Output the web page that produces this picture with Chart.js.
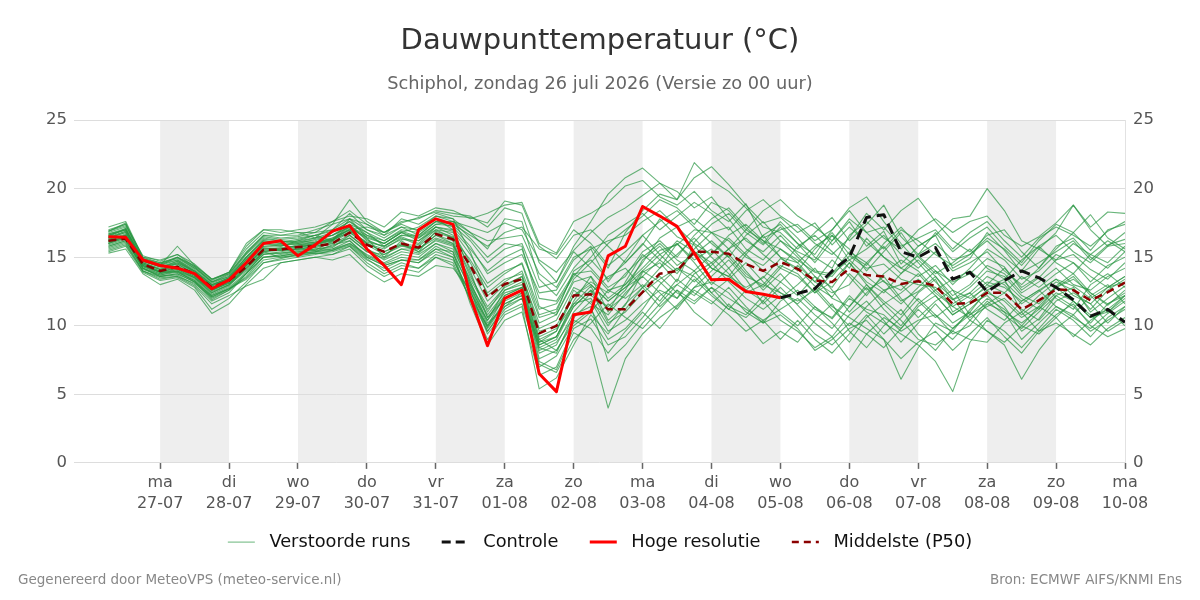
<!DOCTYPE html>
<html lang="nl">
<head>
<meta charset="UTF-8">
<title>Dauwpunttemperatuur</title>
<script src="https://cdn.jsdelivr.net/npm/chart.js@4.4.1/dist/chart.umd.min.js"></script>
<style>
  body { margin: 0; background: #fff; font-family: 'DejaVu Sans', sans-serif; }
  #wrap { position: relative; width: 1200px; height: 600px; }
  .foot { position: absolute; top: 571px; font-size: 13.5px; color: #888; }
</style>
</head>
<body>
<div id="wrap">
  <canvas id="plume"></canvas>
  <div class="foot" style="left:18px">Gegenereerd door MeteoVPS (meteo-service.nl)</div>
  <div class="foot" style="right:18px">Bron: ECMWF AIFS/KNMI Ens</div>
</div>
<script>
Chart.defaults.font.family = "'DejaVu Sans', sans-serif";
Chart.defaults.color = '#555';

// uren t.o.v. ma 27-07 00:00, stappen van 6 uur
var hours = [];
for (var h = -18; h <= 336; h += 6) hours.push(h);

var dayNames = ['ma', 'di', 'wo', 'do', 'vr', 'za', 'zo', 'ma', 'di', 'wo', 'do', 'vr', 'za', 'zo', 'ma'];
var dayDates = ['27-07', '28-07', '29-07', '30-07', '31-07', '01-08', '02-08', '03-08',
                '04-08', '05-08', '06-08', '07-08', '08-08', '09-08', '10-08'];
var shadedDays = [0, 48, 96, 144, 192, 240, 288];   // begin (uur) van de grijze dagen

// hoge resolutie: -18 t/m 216 uur
var hres = [16.5, 16.45, 14.8, 14.4, 14.2, 13.8, 12.7, 13.35, 14.6, 16.0,
            16.2, 15.1, 15.9, 16.9, 17.3, 15.6, 14.4, 13.0, 17.0, 17.8,
            17.4, 12.1, 8.55, 12.0, 12.6, 6.5, 5.2, 10.8, 11.0, 15.1,
            15.8, 18.7, 18.0, 17.25, 15.3, 13.35, 13.4, 12.5, 12.3, 12.05];
// controle run: 216 t/m 336 uur
var control = [12.05, 12.35, 12.7, 14.0, 15.0, 17.9, 18.1, 15.4, 15.0, 15.7,
               13.4, 13.9, 12.5, 13.3, 14.0, 13.5, 12.8, 11.9, 10.7, 11.2, 10.25];
// mediaan van de verstoorde runs: -18 t/m 336 uur
var p50 = [16.2, 16.35, 14.5, 14.0, 14.3, 13.8, 12.8, 13.3, 14.3, 15.55,
           15.55, 15.75, 15.8, 16.0, 16.8, 15.9, 15.4, 16.0, 15.7, 16.7,
           16.3, 14.4, 12.1, 13.05, 13.4, 9.45, 10.0, 12.2, 12.3, 11.2,
           11.2, 12.45, 13.8, 14.0, 15.4, 15.4, 15.25, 14.5, 14.0, 14.65,
           14.15, 13.3, 13.2, 14.15, 13.7, 13.6, 13.05, 13.25, 12.9, 11.6,
           11.65, 12.4, 12.4, 11.2, 11.85, 12.65, 12.6, 11.85, 12.45, 13.15];

// verstoorde runs (geschat uit de pluim), -18 t/m 336 uur
var runs = [
  [16.8,17.2,14.9,14.6,14.9,14.2,13.2,13.6,15.2,16.4, 16.2,16.0,16.3,16.6,17.4,16.2,15.8,16.5,16.0,17.2,
   16.9,15.2,13.1,14.0,14.5,10.8,11.2,13.8,14.0,12.6, 13.0,14.2,15.5,15.9,17.0,16.8,16.2,15.0,14.4,15.6,
   14.8,13.9,13.6,15.1,14.2,14.5,13.4,13.0,12.8,11.9, 12.4,13.6,13.0,11.6,12.5,13.4,12.9,12.0,12.8,13.6],
  [16.0,16.6,14.2,13.8,14.1,13.5,12.4,13.0,14.0,15.2, 15.4,15.6,15.5,16.2,17.1,16.5,16.0,16.8,17.2,18.0,
   17.6,17.2,16.8,17.5,17.0,14.8,13.9,15.5,16.8,17.9, 18.6,19.5,20.4,19.2,20.8,21.6,20.3,18.8,17.5,17.9,
   16.8,17.5,15.9,17.2,16.1,15.0,14.2,15.1,14.0,13.2, 13.8,14.9,14.3,12.6,13.5,14.8,15.2,14.1,13.4,14.6],
  [15.6,16.0,14.0,13.6,13.7,13.0,11.8,12.4,13.8,15.4, 15.0,15.2,15.4,15.9,16.2,15.1,14.5,15.0,14.8,15.8,
   15.2,12.8,9.8,11.6,12.2,7.4,6.8,9.5,8.8,4.0, 7.6,9.4,10.6,11.5,12.8,13.2,12.4,11.0,10.2,11.8,
   12.6,11.4,10.5,12.0,11.2,10.8,9.6,10.4,10.8,9.4, 10.0,11.6,11.0,9.0,10.2,11.4,10.6,9.8,10.9,11.8],
  [16.4,16.9,14.6,14.2,14.7,13.9,12.9,13.4,14.6,15.8, 15.9,15.7,16.0,16.2,17.8,16.4,15.0,16.2,15.4,16.9,
   16.5,13.8,11.0,12.9,13.6,9.2,9.8,11.6,12.9,10.4, 11.5,13.9,14.6,13.2,16.1,17.4,18.2,16.8,15.9,17.2,
   16.0,14.6,16.2,17.6,15.8,16.9,14.5,15.8,16.6,14.2, 14.9,16.8,15.5,13.9,14.6,15.4,16.2,14.8,15.9,16.3],
  [16.2,16.4,14.4,13.9,14.2,13.6,12.6,13.1,14.1,15.4, 15.6,15.9,16.1,16.4,17.0,17.2,16.8,17.5,17.9,18.3,
   18.0,17.9,17.5,19.1,18.8,15.8,14.9,16.6,17.0,15.8, 14.6,15.9,17.8,16.5,15.9,14.2,13.6,12.8,13.5,14.9,
   14.2,12.9,12.1,13.8,12.6,13.3,11.8,12.5,13.6,11.9, 12.8,14.0,13.6,12.2,11.6,12.9,13.8,12.4,11.5,12.6],
  [15.9,16.3,14.1,13.7,14.0,13.2,11.9,12.6,13.6,15.0, 15.2,15.4,15.6,15.7,16.6,15.6,14.8,15.4,15.2,16.0,
   15.4,11.6,8.6,10.4,11.0,6.4,7.0,9.8,10.5,8.6, 9.2,10.6,12.2,13.0,12.2,13.6,14.8,13.4,11.6,12.8,
   11.5,10.2,9.2,10.8,11.8,10.4,8.8,10.2,11.6,10.2, 11.0,12.6,11.4,9.6,10.5,12.2,12.8,11.0,12.0,12.9],
  [17.2,17.6,15.0,14.8,15.2,14.5,13.4,13.8,15.4,16.6, 16.4,16.5,16.8,17.0,18.2,17.0,16.4,17.2,16.6,17.6,
   17.2,15.8,13.8,14.6,15.2,12.4,12.6,14.8,15.8,14.2, 16.8,18.4,19.6,19.2,21.9,20.6,19.8,18.6,17.2,16.8,
   15.6,16.8,17.9,16.2,17.4,18.8,16.5,15.2,16.8,15.4, 16.4,17.2,15.8,14.6,16.2,17.4,16.8,15.5,17.0,17.4],
  [15.4,15.8,13.9,13.3,13.5,12.8,11.2,12.0,13.2,14.6, 14.8,15.0,15.2,15.5,15.9,14.9,14.0,14.6,14.2,15.2,
   14.8,12.4,10.4,12.0,12.6,8.2,8.8,10.6,11.8,9.6, 10.4,11.6,12.6,12.0,13.8,14.6,13.2,12.0,11.2,12.2,
   10.8,9.4,8.6,9.8,10.4,9.0,7.6,8.8,9.6,8.2, 9.4,10.6,9.2,8.0,9.6,10.2,9.4,8.6,9.8,10.6],
  [16.6,17.0,14.7,14.3,14.5,13.8,12.8,13.3,14.9,16.1, 16.0,15.9,16.0,16.4,17.0,16.0,15.6,16.4,15.9,17.0,
   16.8,14.6,12.4,13.4,13.8,9.8,10.4,12.8,12.2,11.4, 12.6,14.8,15.8,14.4,15.2,16.2,15.0,13.6,13.0,12.4,
   11.6,12.8,11.4,10.6,9.8,9.0,6.1,8.4,10.2,9.6, 11.2,12.4,11.8,10.6,11.4,12.8,13.6,12.2,11.0,12.2],
  [16.3,16.7,14.5,14.0,14.4,13.7,12.7,13.2,14.4,15.6, 15.6,15.8,15.9,16.2,16.9,16.1,15.8,16.6,16.4,17.4,
   17.3,16.2,14.6,15.6,16.0,12.8,13.2,15.8,17.6,19.6, 20.8,21.5,20.4,19.8,18.6,19.4,17.8,16.2,15.4,16.6,
   15.2,14.0,13.8,15.4,14.6,15.8,14.2,13.6,14.4,13.0, 14.2,15.6,14.8,13.4,14.0,15.2,14.6,13.2,14.4,15.0],
  [15.8,16.2,14.3,13.9,13.9,13.3,12.2,12.8,13.9,15.2, 15.3,15.5,15.6,15.8,16.4,15.4,14.9,15.6,15.3,16.3,
   15.9,13.4,11.2,12.6,13.0,8.8,9.2,11.4,12.6,10.2, 11.0,12.4,13.4,14.2,13.2,14.4,15.6,14.0,12.6,13.8,
   12.4,11.2,10.6,12.2,11.0,10.2,9.4,8.6,7.4,5.2, 8.8,10.4,9.6,8.4,9.8,11.2,10.4,9.2,10.6,11.4],
  [17.0,17.4,14.8,14.5,14.8,14.1,13.1,13.6,15.0,16.2, 16.1,16.3,16.6,17.0,17.8,17.4,16.8,17.6,17.8,18.4,
   18.2,18.0,17.2,18.6,18.2,14.6,13.2,15.4,14.2,12.8, 13.6,15.4,16.2,15.0,16.6,17.8,18.6,17.2,16.0,17.6,
   16.4,15.0,14.2,16.6,17.6,16.4,15.6,17.0,17.8,16.8, 17.6,18.0,16.6,15.8,16.5,17.5,18.8,17.2,18.3,18.2],
  [16.1,16.5,14.3,13.8,14.0,13.4,12.3,12.9,14.2,15.3, 15.3,15.4,15.5,15.6,16.0,15.2,14.6,15.2,15.0,16.0,
   15.6,13.0,10.8,12.4,12.8,7.6,8.2,10.2,11.2,9.0, 9.8,11.2,13.0,14.2,13.6,12.4,13.4,14.6,13.2,12.0,
   13.0,14.2,12.6,11.0,12.4,13.6,12.0,10.6,11.8,12.6, 10.8,11.6,12.4,11.2,10.4,11.8,12.4,11.6,10.2,11.4],
  [16.5,16.9,14.6,14.1,14.6,13.9,12.9,13.5,14.8,16.0, 15.8,16.1,16.4,16.8,17.6,16.8,16.2,17.0,16.8,17.6,
   17.4,16.6,15.8,16.8,17.2,15.6,15.2,17.0,16.0,14.4, 15.4,16.6,15.2,14.0,15.6,16.8,17.2,15.6,14.8,16.2,
   15.0,13.6,12.8,14.6,13.2,12.4,13.8,14.8,13.6,12.2, 13.0,14.4,13.8,12.4,13.2,14.2,13.0,12.6,13.6,14.2],
  [15.3,15.6,13.8,13.0,13.4,12.6,10.9,11.6,13.0,14.2, 14.6,14.8,15.0,15.2,15.8,14.6,13.8,14.4,14.2,15.0,
   14.6,12.0,9.6,11.2,12.0,7.0,7.8,10.0,11.0,12.6, 12.0,13.0,11.8,13.4,12.4,11.6,12.8,11.4,10.2,10.8,
   9.8,8.2,9.0,10.2,9.4,8.4,9.8,11.2,10.0,9.0, 10.4,11.8,10.8,9.8,11.0,12.2,11.4,10.2,11.6,12.4],
  [16.7,17.1,14.8,14.4,14.8,14.0,13.0,13.5,15.0,16.3, 16.2,16.1,16.2,16.6,17.2,16.3,15.7,16.3,16.2,17.2,
   16.6,14.2,11.8,13.0,13.6,10.2,10.8,13.2,13.6,12.0, 13.0,14.6,16.4,17.2,16.0,15.2,16.6,17.4,16.2,15.0,
   14.0,15.6,16.8,15.2,14.4,16.0,17.2,15.8,16.6,17.8, 18.0,20.0,18.4,16.2,15.6,14.8,16.0,15.2,14.6,15.8],
  [16.9,17.3,15.1,14.7,15.2,14.3,13.3,13.9,15.6,16.8, 16.6,16.6,17.0,17.4,19.2,17.6,16.8,17.4,16.9,17.8,
   17.0,14.0,10.6,12.2,12.8,8.6,9.2,11.8,13.6,11.0, 13.2,15.2,14.2,16.0,14.6,13.0,14.2,12.6,11.8,13.2,
   12.2,13.6,12.0,11.4,13.0,11.8,10.8,12.4,13.4,11.0, 11.8,13.0,14.2,12.8,13.6,12.0,11.2,13.0,13.8,12.8],
  [16.0,16.4,14.2,13.6,13.8,13.2,12.0,12.6,13.8,15.0, 15.1,15.3,15.4,15.6,16.2,15.0,14.4,14.8,14.6,15.4,
   15.0,12.2,9.9,11.8,12.4,8.0,8.6,11.0,12.4,13.6, 14.2,12.8,11.4,12.6,11.0,10.0,11.6,10.2,8.7,9.6,
   8.8,10.4,11.6,9.6,8.4,10.0,11.2,9.4,8.2,9.8, 11.0,9.6,8.8,10.0,11.4,10.6,9.2,10.4,11.2,10.0],
  [16.4,16.8,14.5,14.1,14.3,13.7,12.7,13.2,14.4,15.6, 15.7,15.8,16.0,16.3,17.2,16.6,16.0,16.8,16.2,17.0,
   16.4,14.8,12.8,13.8,14.6,11.2,11.6,13.6,15.0,16.6, 17.4,18.2,17.0,18.0,19.0,18.2,17.0,18.4,19.2,18.0,
   17.2,16.0,15.2,16.4,18.2,17.0,18.4,19.3,17.6,16.2, 15.4,16.6,17.0,15.4,14.2,15.6,16.8,18.1,16.4,15.6],
  [16.2,16.6,14.4,14.0,14.2,13.6,12.5,13.0,14.2,15.4, 15.5,15.6,15.8,16.0,16.6,15.6,15.0,15.6,15.6,16.6,
   16.2,13.2,10.2,11.4,12.0,8.8,9.6,12.6,11.6,10.8, 12.4,13.6,12.4,11.2,12.8,14.0,15.2,13.8,12.8,14.2,
   13.6,12.4,13.8,14.8,13.6,12.6,11.6,12.8,14.0,12.6, 12.0,12.8,13.4,11.0,12.2,13.2,12.6,11.2,12.6,13.4],
  [16.6,17.0,14.7,14.3,14.6,14.0,13.0,13.4,14.8,16.0, 15.9,16.0,16.1,16.3,16.8,16.0,15.4,16.0,15.8,16.8,
   16.4,13.6,11.4,12.8,13.4,9.6,10.0,12.2,13.0,11.8, 12.8,14.0,15.2,16.0,14.8,15.6,14.2,15.4,16.6,17.4,
   16.0,15.2,17.0,18.6,19.4,17.6,16.0,14.6,13.2,12.0, 10.4,9.6,8.6,6.1,8.2,9.8,10.8,9.6,10.4,11.2],
  [15.7,16.1,14.0,13.5,13.6,13.1,12.1,12.7,13.5,14.8, 15.0,15.1,15.3,15.4,15.8,14.8,14.2,14.8,14.6,15.6,
   15.4,12.6,9.4,11.0,11.6,7.2,6.6,9.0,10.2,11.6, 10.6,9.8,11.2,12.6,11.8,12.8,11.4,10.8,12.2,11.0,
   10.0,11.4,10.2,8.8,10.6,11.6,10.4,9.0,8.6,9.6, 9.0,8.8,10.2,11.0,9.6,10.8,11.6,10.0,9.2,9.8],
  [16.9,17.5,14.9,14.5,15.0,14.2,13.2,13.7,15.3,16.5, 16.3,16.4,16.6,16.9,17.6,16.6,16.2,16.9,16.5,17.4,
   17.6,16.8,16.2,16.4,16.6,13.8,12.8,15.0,15.6,16.2, 16.6,17.6,18.4,17.2,17.8,16.8,15.6,17.0,18.4,19.2,
   18.0,17.2,16.2,17.8,16.8,15.6,17.0,16.2,15.2,14.4, 15.2,16.4,15.6,14.4,15.8,16.6,15.4,14.6,15.8,16.8],
  [16.3,16.6,14.4,13.9,14.1,13.5,12.6,13.1,14.3,15.5, 15.5,15.6,15.8,16.1,16.8,15.9,15.2,15.8,15.6,16.6,
   16.0,13.0,10.0,11.6,12.2,8.4,9.0,11.4,12.6,11.2, 12.2,14.0,13.2,12.0,13.4,12.2,11.2,10.6,11.8,10.4,
   9.6,8.4,9.2,7.5,9.4,10.6,9.8,11.4,12.2,10.8, 11.6,12.2,11.0,10.2,11.2,12.4,11.8,10.6,11.0,12.0],
  [16.6,17.0,14.8,14.4,15.8,14.4,13.4,13.9,16.0,17.0, 16.8,17.0,17.2,17.6,18.0,17.8,17.2,18.3,18.0,18.6,
   18.4,17.8,18.2,18.8,19.0,16.0,15.3,17.6,18.2,19.0, 20.2,20.6,19.4,18.8,19.8,18.4,17.6,18.9,16.4,17.0,
   17.4,16.2,17.0,18.4,16.8,17.2,15.8,16.4,17.0,15.6, 16.8,17.6,16.2,15.0,16.4,17.2,16.6,15.8,16.9,17.6],
  [15.5,15.9,14.0,13.4,13.6,12.9,11.6,12.2,12.9,13.4, 14.6,14.8,15.0,14.8,15.2,14.0,13.2,13.8,13.6,14.4,
   14.2,12.6,9.6,11.4,12.4,8.4,8.0,10.8,11.4,7.4, 8.6,10.2,11.6,13.0,14.0,12.4,11.2,12.6,13.6,12.4,
   11.8,12.6,11.2,10.0,11.4,12.6,13.0,11.8,10.6,11.6, 12.4,11.2,10.4,11.8,12.6,11.4,10.8,12.2,13.0,11.6],
  [16.9,17.4,15.0,14.6,15.0,14.3,13.2,13.8,15.3,16.6, 16.6,16.8,16.4,17.4,17.8,17.0,16.6,17.8,17.4,18.2,
   17.8,16.8,15.6,17.8,17.6,13.4,12.2,14.2,15.6,13.2, 14.8,16.6,17.6,18.4,17.2,16.0,15.0,16.6,17.6,16.2,
   15.4,14.8,16.6,15.6,14.0,15.4,16.8,15.0,13.8,14.6, 15.6,14.2,13.4,14.8,15.8,14.6,13.8,15.2,16.2,15.4],
  [16.0,16.4,14.2,13.7,13.9,13.3,12.1,12.7,13.4,14.6, 14.9,15.2,15.3,15.2,15.6,14.4,13.6,14.2,13.9,15.0,
   14.4,12.0,10.0,12.2,12.8,9.0,8.2,10.4,9.8,8.0, 9.6,11.0,9.8,11.4,12.6,11.8,10.8,9.6,10.4,9.0,
   10.4,9.0,8.0,9.4,10.8,9.4,10.6,12.0,10.8,9.8, 10.8,12.0,11.2,10.0,9.4,10.6,11.8,10.8,9.6,10.4],
  [16.5,17.1,14.7,14.4,15.0,14.4,13.4,13.9,15.8,17.0, 17.0,16.8,16.8,17.6,18.4,17.4,16.6,17.2,17.0,18.0,
   17.8,15.4,12.2,13.2,14.0,10.6,11.0,14.0,14.8,13.4, 14.6,16.0,14.8,13.8,15.4,14.2,13.6,15.2,16.6,15.0,
   14.6,13.2,14.8,13.6,12.2,13.8,14.8,14.0,12.6,13.4, 14.0,13.0,12.4,13.6,12.8,13.8,14.6,13.6,12.8,13.6],
  [15.8,16.2,14.2,13.6,13.8,13.2,12.2,12.7,13.8,15.0, 15.1,15.3,15.4,15.5,16.0,15.0,14.4,14.8,14.8,15.6,
   15.0,11.8,9.0,10.8,11.4,5.4,6.2,8.6,10.8,9.4, 11.2,12.8,14.2,15.2,16.4,15.0,13.8,12.4,13.0,14.4,
   13.8,12.4,13.2,14.6,13.0,11.6,12.4,13.4,12.2,10.8, 11.6,12.6,13.2,12.0,11.2,12.8,13.4,12.4,11.6,12.2],
  [16.1,16.5,14.5,13.9,14.3,13.7,12.6,13.2,14.6,15.8, 15.8,16.2,16.6,16.2,17.4,16.8,15.8,16.6,16.6,17.6,
   17.6,16.4,15.0,16.0,15.8,11.4,10.8,13.4,14.6,16.0, 17.0,18.0,19.2,18.6,17.4,19.0,18.4,17.0,16.2,15.6,
   14.6,15.8,16.6,14.8,15.6,16.6,15.2,14.2,15.4,14.0, 14.6,15.4,14.0,13.0,14.2,15.8,16.4,15.0,14.2,15.4],
  [16.4,16.8,14.6,14.1,14.5,13.8,12.8,13.3,14.5,15.7, 15.6,15.7,15.9,16.3,17.0,16.0,15.4,15.9,15.6,16.4,
   16.0,13.2,10.6,12.0,12.6,8.6,9.2,11.6,12.0,10.0, 11.6,12.8,13.6,12.4,11.6,12.8,12.0,11.2,10.4,11.2,
   12.0,10.8,9.8,11.4,12.8,11.2,10.0,11.6,12.6,11.4, 10.6,11.4,12.0,10.8,11.8,12.8,11.8,10.6,11.2,12.2],
  [16.2,16.6,14.4,13.9,14.0,13.5,12.4,13.0,14.4,15.6, 15.6,15.6,15.7,16.0,16.4,15.4,15.2,15.9,15.4,16.2,
   15.8,12.8,10.4,12.6,13.2,9.0,9.6,12.2,13.2,12.4, 13.8,15.0,16.0,14.8,14.0,15.2,16.4,15.2,14.0,13.2,
   14.4,13.2,12.4,13.0,14.6,13.2,12.6,13.8,12.4,11.4, 12.2,13.2,12.8,11.8,12.6,13.4,12.2,11.6,12.8,13.2],
  [16.7,17.0,14.7,14.3,14.7,14.0,13.0,13.5,15.0,16.2, 16.0,16.2,16.4,16.6,17.2,16.4,16.0,16.8,16.4,17.2,
   17.0,15.6,14.0,15.0,15.6,12.0,11.8,13.8,13.0,11.8, 12.8,13.6,14.8,16.2,15.4,14.6,15.6,16.4,15.2,14.2,
   15.8,16.6,15.4,14.2,16.4,15.0,13.8,15.2,16.0,14.8, 15.2,16.2,15.0,14.0,15.6,16.8,18.8,17.0,15.8,16.0]
];

function toPoints(values, startHour) {
  return values.map(function(v, i) { return {x: startHour + 6 * i, y: v}; });
}

var runColor = 'rgba(40,150,65,0.7)';
var datasets = [];
runs.forEach(function(r, i) {
  datasets.push({label: 'run ' + (i + 1), data: toPoints(r, hours[0]),
                 borderColor: runColor, borderWidth: 1.1, order: 4});
});
datasets.push({label: 'Middelste (P50)', data: toPoints(p50, hours[0]),
               borderColor: '#8b0000', borderWidth: 2.5, borderDash: [8, 5], order: 3});
datasets.push({label: 'Controle', data: toPoints(control, 216),
               borderColor: '#111111', borderWidth: 3, borderDash: [11, 6], order: 2});
datasets.push({label: 'Hoge resolutie', data: toPoints(hres, hours[0]),
               borderColor: '#ff0000', borderWidth: 3, order: 1});

// grijze achtergrond voor om-en-om dagen
var dayShading = {
  id: 'dayShading',
  beforeDraw: function(chart) {
    var area = chart.chartArea, xs = chart.scales.x, ctx = chart.ctx;
    ctx.save();
    ctx.fillStyle = '#eeeeee';
    shadedDays.forEach(function(start) {
      var x1 = xs.getPixelForValue(start), x2 = xs.getPixelForValue(start + 24);
      ctx.fillRect(x1, area.top, x2 - x1, area.bottom - area.top);
    });
    ctx.restore();
  }
};

// spaties rond de tekst geven dezelfde tussenruimte als het origineel
function legendItem(text, color, width, dash) {
  return {text: text, strokeStyle: color, fillStyle: 'rgba(0,0,0,0)', lineWidth: width,
          lineDash: dash, pointStyle: 'line', hidden: false, fontColor: '#111'};
}

new Chart(document.getElementById('plume'), {
  type: 'line',
  data: {datasets: datasets},
  plugins: [dayShading],
  options: {
    responsive: true,
    maintainAspectRatio: false,
    animation: false,
    parsing: false,
    elements: {point: {radius: 0}, line: {tension: 0, borderJoinStyle: 'round'}},
    layout: {padding: {left: 0, right: 0, top: 0, bottom: 39}},
    scales: {
      x: {
        type: 'linear', min: -30, max: 336,
        afterBuildTicks: function(scale) {
          scale.ticks = dayDates.map(function(d, i) { return {value: i * 24}; });
        },
        afterFit: function(scale) { scale.height = 50.3; },
        grid: {drawOnChartArea: false, tickLength: 6, tickColor: '#666', tickWidth: 1.5},
        border: {display: false},
        ticks: {
          autoSkip: false, maxRotation: 0, padding: 4, color: '#555',
          font: {size: 16, lineHeight: 1.3},
          callback: function(value) {
            var i = Math.round(value / 24);
            return [dayNames[i], dayDates[i]];
          }
        }
      },
      y: {
        position: 'left', min: 0, max: 25,
        afterFit: function(scale) { scale.width = 74; },
        grid: {color: '#dddddd', drawTicks: false},
        border: {display: false},
        ticks: {stepSize: 5, padding: 7, color: '#555', font: {size: 16.5}}
      },
      y2: {
        position: 'right', min: 0, max: 25,
        afterFit: function(scale) { scale.width = 75; },
        grid: {drawOnChartArea: false, drawTicks: false},
        border: {display: true, color: '#e2e2e2'},
        ticks: {stepSize: 5, padding: 8, color: '#555', font: {size: 16.5}}
      }
    },
    plugins: {
      title: {
        display: true, text: 'Dauwpunttemperatuur (°C)', color: '#333',
        font: {size: 29, weight: 'normal'}, padding: {top: 24.2, bottom: 15}
      },
      subtitle: {
        display: true, text: 'Schiphol, zondag 26 juli 2026 (Versie zo 00 uur)', color: '#666',
        font: {size: 17.75, weight: 'normal'}, padding: {top: 0, bottom: 24.8}
      },
      legend: {
        position: 'bottom',
        onClick: null,
        labels: {
          usePointStyle: true, pointStyleWidth: 27, padding: 20, color: '#111',
          font: {size: 17.8},
          generateLabels: function() {
            return [
              legendItem(' Verstoorde runs  ', 'rgba(40,150,65,0.7)', 1, []),
              legendItem(' Controle  ', '#111111', 3, [9, 5]),
              legendItem(' Hoge resolutie  ', '#ff0000', 3, []),
              legendItem(' Middelste (P50)', '#8b0000', 2.5, [7, 5])
            ];
          }
        }
      },
      tooltip: {enabled: false}
    }
  }
});
</script>
</body>
</html>
